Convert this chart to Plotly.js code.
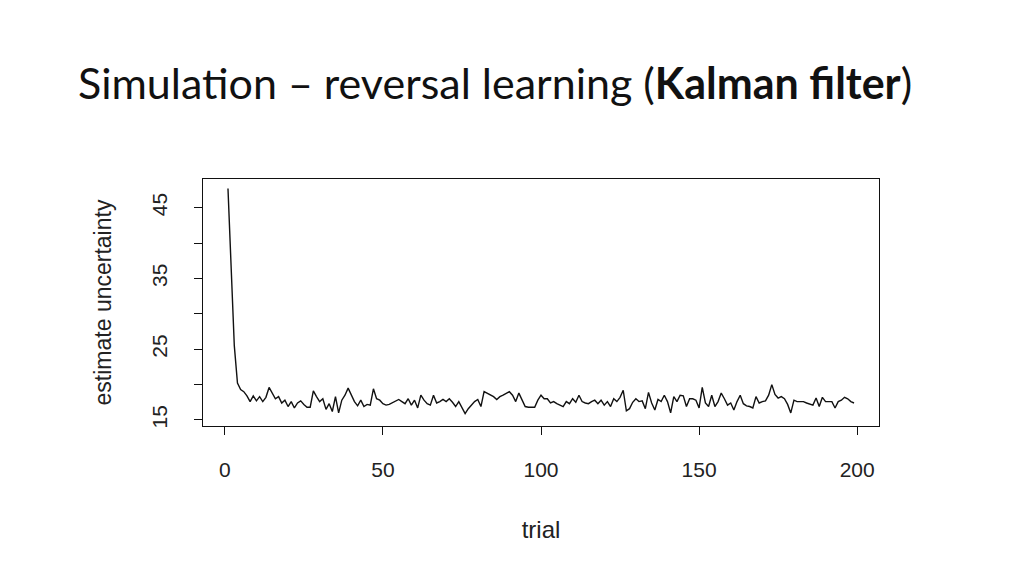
<!DOCTYPE html>
<html>
<head>
<meta charset="utf-8">
<script src="https://cdn.plot.ly/plotly-3.0.1.min.js"></script>
<style>
	html, body { margin: 0; padding: 0; background: #fff; }
	#plot { width: 1024px; height: 576px; }
</style>
</head>
<body>
<div id="plot"></div>
<script>
// estimate uncertainty per trial (trial 1 .. 199)
var uncertainty = [
	47.7, 37.0, 25.5, 20.2, 19.3, 19.0, 18.4, 17.6, 18.4, 17.7,
	18.3, 17.6, 18.2, 19.6, 18.8, 18.0, 18.3, 17.4, 17.8, 16.9,
	17.6, 16.7, 17.4, 17.7, 17.2, 16.8, 16.8, 19.1, 18.3, 17.6,
	18.0, 16.5, 17.3, 16.2, 18.3, 16.0, 17.8, 18.5, 19.5, 18.5,
	17.6, 17.0, 17.8, 16.9, 17.2, 17.1, 19.4, 18.0, 17.8, 17.3,
	17.1, 17.2, 17.4, 17.6, 17.9, 17.6, 17.3, 18.0, 17.1, 17.8,
	16.7, 18.5, 17.8, 17.3, 17.1, 18.5, 17.4, 17.6, 17.9, 17.6,
	18.0, 17.5, 16.9, 17.6, 16.8, 15.9, 16.6, 17.1, 17.6, 17.9,
	16.9, 19.0, 18.8, 18.6, 18.3, 17.9, 18.3, 18.5, 18.8, 19.0,
	18.5, 17.6, 18.8, 17.8, 16.9, 16.8, 16.8, 16.8, 17.8, 18.5,
	18.0, 18.0, 17.4, 17.6, 17.3, 17.1, 16.9, 17.6, 17.3, 18.0,
	17.5, 18.5, 17.6, 17.4, 17.3, 17.6, 17.8, 17.3, 17.8, 17.1,
	17.6, 16.9, 18.0, 17.6, 18.2, 19.2, 16.3, 16.6, 17.5, 18.0,
	17.6, 17.7, 16.6, 18.9, 17.4, 16.4, 17.9, 17.6, 18.5, 17.6,
	16.0, 18.3, 17.6, 18.5, 18.4, 16.9, 18.0, 18.0, 17.8, 16.7,
	19.6, 17.4, 16.9, 18.5, 16.9, 17.6, 18.8, 18.0, 17.1, 17.4,
	16.4, 17.6, 18.5, 17.3, 17.0, 16.9, 16.7, 18.3, 17.4, 17.6,
	17.7, 18.5, 20.0, 18.6, 18.1, 18.3, 18.0, 17.2, 16.0, 17.8,
	17.6, 17.6, 17.6, 17.4, 17.3, 17.1, 18.1, 16.9, 18.2, 17.6,
	17.6, 17.6, 16.7, 17.6, 17.8, 18.2, 18.0, 17.6, 17.4
];

var xTicks = [0, 50, 100, 150, 200];
var yTicks = [15, 20, 25, 30, 35, 40, 45];
var yTickLabels = ['15', '', '25', '', '35', '', '45'];

var trials = [];
for(var i = 0; i < uncertainty.length; i++){
	trials.push(i + 1);
}

var fam = 'Liberation Sans, Arial, sans-serif';
var tickFont = {family: fam, size: 21, color: '#222'};

var data = [{
	x: trials,
	y: uncertainty,
	type: 'scatter',
	mode: 'lines',
	line: {color: '#111', width: 1.4},
	hoverinfo: 'skip'
}];

var layout = {
	width: 1024,
	height: 576,
	paper_bgcolor: '#fff',
	plot_bgcolor: '#fff',
	showlegend: false,
	margin: {l: 203, r: 145, t: 179, b: 150},
	title: {
		text: 'Simulation \u2013 reversal learning (<b>Kalman filter</b>)',
		font: {family: 'Lato, Open Sans, sans-serif', size: 43, color: '#111'},
		x: 78 / 1024,
		xanchor: 'left',
		xref: 'container',
		y: 1 - 84 / 576,
		yanchor: 'middle',
		yref: 'container'
	},
	xaxis: {
		range: [-6.9, 206.9],
		tickvals: xTicks,
		ticks: 'outside',
		ticklen: 8,
		tickcolor: '#111',
		tickfont: tickFont,
		ticklabelstandoff: 17,
		showgrid: false,
		zeroline: false,
		showline: true,
		mirror: true,
		linecolor: '#111',
		linewidth: 1,
		title: {text: 'trial', font: {family: fam, size: 24, color: '#222'}, standoff: 40}
	},
	yaxis: {
		range: [14.15, 49.04],
		tickvals: yTicks,
		ticktext: yTickLabels,
		tickangle: -90,
		ticks: 'outside',
		ticklen: 8,
		tickcolor: '#111',
		tickfont: tickFont,
		ticklabelstandoff: 19,
		showgrid: false,
		zeroline: false,
		showline: true,
		mirror: true,
		linecolor: '#111',
		linewidth: 1,
		title: {text: 'estimate uncertainty', font: {family: fam, size: 23, color: '#222'}, standoff: 29}
	}
};

Plotly.newPlot('plot', data, layout, {staticPlot: true, displayModeBar: false});
</script>
</body>
</html>
